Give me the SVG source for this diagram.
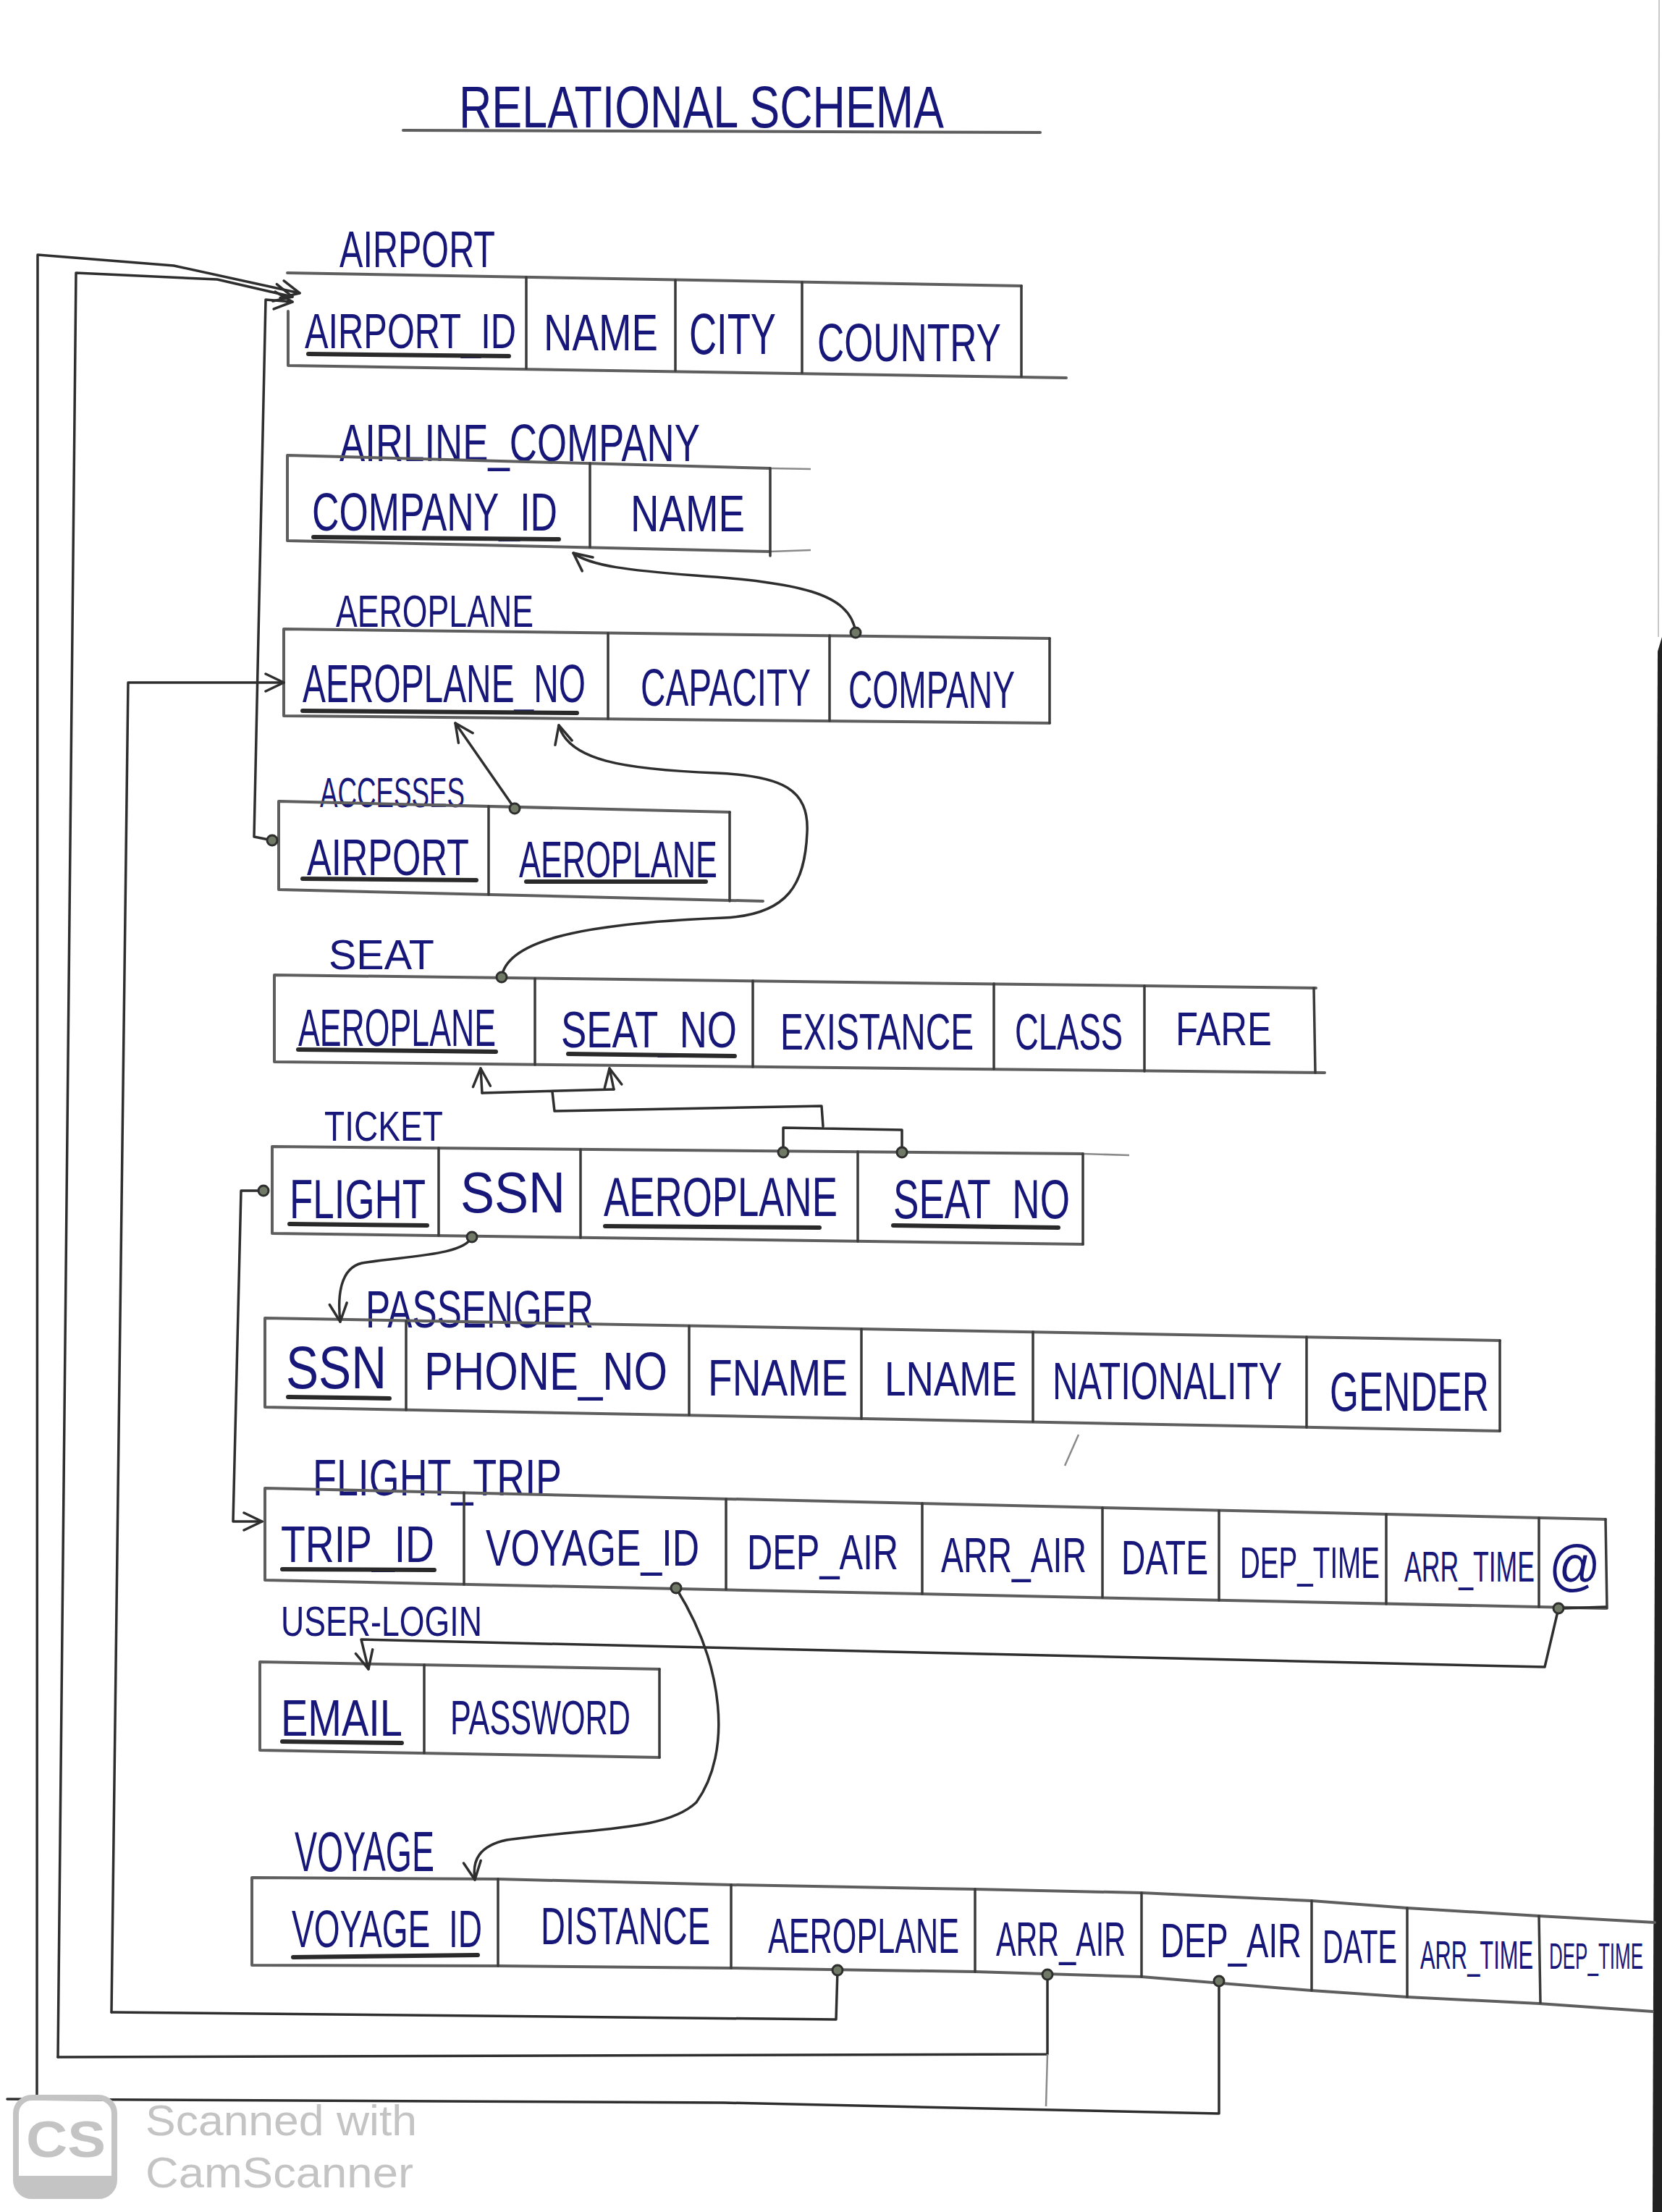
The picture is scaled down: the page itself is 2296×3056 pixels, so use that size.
<svg xmlns="http://www.w3.org/2000/svg" width="2296" height="3056" viewBox="0 0 2296 3056">
<style>
.bg{fill:#ffffff}
.box{stroke:#5e5e5e;stroke-width:4;fill:none;stroke-linecap:round;stroke-linejoin:round}
.dv{stroke:#3a3a3a;stroke-width:3.5;fill:none;stroke-linecap:round}
.conn{stroke:#2e2e2e;stroke-width:3.5;fill:none;stroke-linecap:round;stroke-linejoin:round}
.faint{stroke:#8a8a8a;stroke-width:2.5;fill:none}
.ul{stroke:#2a2a2a;stroke-width:6;stroke-linecap:round}
.t{font-family:"Liberation Sans",Arial,sans-serif;fill:#17177a}
.dot{fill:#707866;stroke:#2e2e2e;stroke-width:3}
.wm{font-family:"Liberation Sans",Arial,sans-serif;fill:#c4c4c4}
</style>
<defs>
<marker id="arr" viewBox="0 0 30 30" refX="28" refY="15" markerWidth="30" markerHeight="30" orient="auto" markerUnits="userSpaceOnUse">
<path d="M3,3 L28,15 L3,27" fill="none" stroke="#2e2e2e" stroke-width="3.5" stroke-linecap="round" stroke-linejoin="round"/>
</marker>
</defs>
<rect class="bg" x="0" y="0" width="2296" height="3056"/>
<polygon points="2290,900 2296,880 2296,3056 2283,3056" fill="#222222"/>
<line x1="2292" y1="0" x2="2291" y2="880" stroke="#c8c8c8" stroke-width="2"/>

<g id="title">
<text class="t" transform="translate(634,176) scale(1,1.32)" font-size="62" textLength="670" lengthAdjust="spacingAndGlyphs">RELATIONAL SCHEMA</text>
<path class="box" d="M557,180 L1437,183"/>
</g>

<g id="airport">
<text class="t" transform="translate(469,369) scale(1,1.446)" font-size="48.4" textLength="215" lengthAdjust="spacingAndGlyphs">AIRPORT</text>
<path class="box" d="M397,377 L1411,395 M398,430 L398,505 L1473,522"/>
<path class="dv" d="M727,383 L727,509 M933,387 L933,512 M1108,390 L1108,515 M1411,395 L1411,520"/>
<text class="t" transform="translate(421,481) scale(1,1.397)" font-size="48.7" textLength="292" lengthAdjust="spacingAndGlyphs">AIRPORT_ID</text>
<line class="ul" x1="426" y1="489" x2="703" y2="492"/>
<text class="t" transform="translate(751,484) scale(1,1.28)" font-size="54.7" textLength="158" lengthAdjust="spacingAndGlyphs">NAME</text>
<text class="t" transform="translate(952,489) scale(1,1.518)" font-size="52.7" textLength="120" lengthAdjust="spacingAndGlyphs">CITY</text>
<text class="t" transform="translate(1129,499) scale(1,1.44)" font-size="51.4" textLength="254" lengthAdjust="spacingAndGlyphs">COUNTRY</text>
</g>

<g id="airline_company">
<text class="t" transform="translate(469,637) scale(1,1.374)" font-size="52.4" textLength="498" lengthAdjust="spacingAndGlyphs">AIRLINE_COMPANY</text>
<path class="box" d="M397,629 L1064,647 M397,629 L397,747 L1064,762"/>
<path class="faint" d="M1064,647 L1120,648 M1064,762 L1120,760"/>
<path class="dv" d="M815,640 L815,756 M1064,647 L1064,768"/>
<text class="t" transform="translate(431,733) scale(1,1.443)" font-size="51.3" textLength="339" lengthAdjust="spacingAndGlyphs">COMPANY_ID</text>
<line class="ul" x1="433" y1="742" x2="772" y2="745"/>
<text class="t" transform="translate(871,734) scale(1,1.28)" font-size="54.7" textLength="158" lengthAdjust="spacingAndGlyphs">NAME</text>
</g>

<g id="aeroplane">
<text class="t" transform="translate(464,866) scale(1,1.41)" font-size="44.7" textLength="273" lengthAdjust="spacingAndGlyphs">AEROPLANE</text>
<path class="box" d="M392,869 L1450,882 M392,869 L392,989 L1450,999"/>
<path class="dv" d="M840,875 L840,993 M1146,878 L1146,996 M1450,882 L1450,999"/>
<text class="t" transform="translate(418,970) scale(1,1.546)" font-size="47.9" textLength="391" lengthAdjust="spacingAndGlyphs">AEROPLANE_NO</text>
<line class="ul" x1="418" y1="982" x2="797" y2="985"/>
<text class="t" transform="translate(885,975) scale(1,1.532)" font-size="47" textLength="235" lengthAdjust="spacingAndGlyphs">CAPACITY</text>
<text class="t" transform="translate(1172,978) scale(1,1.582)" font-size="45.5" textLength="230" lengthAdjust="spacingAndGlyphs">COMPANY</text>
</g>

<g id="accesses">
<text class="t" transform="translate(442,1115) scale(1,1.58)" font-size="36.7" textLength="200" lengthAdjust="spacingAndGlyphs">ACCESSES</text>
<path class="box" d="M385,1107 L1008,1122 M385,1107 L385,1229 L1054,1245"/>
<path class="dv" d="M675,1114 L675,1236 M1008,1122 L1008,1245"/>
<text class="t" transform="translate(424,1209) scale(1,1.389)" font-size="50.4" textLength="224" lengthAdjust="spacingAndGlyphs">AIRPORT</text>
<line class="ul" x1="418" y1="1214" x2="658" y2="1216"/>
<text class="t" transform="translate(717,1212) scale(1,1.562)" font-size="44.8" textLength="274" lengthAdjust="spacingAndGlyphs">AEROPLANE</text>
<line class="ul" x1="727" y1="1218" x2="975" y2="1218"/>
</g>

<g id="seat">
<text class="t" transform="translate(454,1339) scale(1,1.038)" font-size="55.9" textLength="146" lengthAdjust="spacingAndGlyphs">SEAT</text>
<path class="box" d="M379,1347 L1818,1365 M379,1347 L379,1467 L1830,1482"/>
<path class="dv" d="M739,1352 L739,1471 M1040,1355 L1040,1474 M1373,1359 L1373,1477 M1581,1362 L1581,1480 M1815,1365 L1817,1482"/>
<text class="t" transform="translate(412,1445) scale(1,1.611)" font-size="44.7" textLength="273" lengthAdjust="spacingAndGlyphs">AEROPLANE</text>
<line class="ul" x1="412" y1="1450" x2="685" y2="1453"/>
<text class="t" transform="translate(775,1447) scale(1,1.344)" font-size="52.1" textLength="243" lengthAdjust="spacingAndGlyphs">SEAT_NO</text>
<line class="ul" x1="785" y1="1456" x2="1015" y2="1459"/>
<text class="t" transform="translate(1078,1450) scale(1,1.486)" font-size="47.1" textLength="267" lengthAdjust="spacingAndGlyphs">EXISTANCE</text>
<text class="t" transform="translate(1402,1450) scale(1,1.54)" font-size="45.4" textLength="149" lengthAdjust="spacingAndGlyphs">CLASS</text>
<text class="t" transform="translate(1624,1444) scale(1,1.283)" font-size="49.9" textLength="133" lengthAdjust="spacingAndGlyphs">FARE</text>
</g>

<g id="ticket">
<text class="t" transform="translate(448,1576) scale(1,1.258)" font-size="46.1" textLength="164" lengthAdjust="spacingAndGlyphs">TICKET</text>
<path class="box" d="M376,1584 L1496,1594 M376,1584 L376,1704 L1496,1719"/>
<path class="faint" d="M1496,1594 L1560,1596"/>
<path class="dv" d="M606,1586 L606,1707 M802,1588 L802,1710 M1185,1591 L1185,1715 M1496,1594 L1496,1719"/>
<text class="t" transform="translate(400,1683) scale(1,1.437)" font-size="52.9" textLength="188" lengthAdjust="spacingAndGlyphs">FLIGHT</text>
<line class="ul" x1="400" y1="1691" x2="590" y2="1693"/>
<text class="t" transform="translate(636,1675) scale(1,1.135)" font-size="70.5" textLength="145" lengthAdjust="spacingAndGlyphs">SSN</text>
<text class="t" transform="translate(834,1680) scale(1,1.439)" font-size="52.8" textLength="323" lengthAdjust="spacingAndGlyphs">AEROPLANE</text>
<line class="ul" x1="836" y1="1694" x2="1132" y2="1696"/>
<text class="t" transform="translate(1234,1683) scale(1,1.453)" font-size="52.3" textLength="244" lengthAdjust="spacingAndGlyphs">SEAT_NO</text>
<line class="ul" x1="1234" y1="1693" x2="1462" y2="1696"/>
</g>

<g id="passenger">
<text class="t" transform="translate(505,1834) scale(1,1.423)" font-size="50.6" textLength="315" lengthAdjust="spacingAndGlyphs">PASSENGER</text>
<path class="box" d="M366,1821 L2072,1852 M366,1821 L366,1944 L2072,1977"/>
<path class="dv" d="M561,1825 L561,1948 M952,1832 L952,1955 M1190,1836 L1190,1960 M1427,1840 L1427,1964 M1805,1847 L1805,1972 M2072,1852 L2072,1977"/>
<text class="t" transform="translate(395,1918) scale(1,1.243)" font-size="67.6" textLength="139" lengthAdjust="spacingAndGlyphs">SSN</text>
<line class="ul" x1="398" y1="1930" x2="538" y2="1932"/>
<text class="t" transform="translate(586,1920) scale(1,1.235)" font-size="59.9" textLength="336" lengthAdjust="spacingAndGlyphs">PHONE_NO</text>
<text class="t" transform="translate(978,1928) scale(1,1.27)" font-size="55.1" textLength="193" lengthAdjust="spacingAndGlyphs">FNAME</text>
<text class="t" transform="translate(1222,1928) scale(1,1.243)" font-size="53.1" textLength="183" lengthAdjust="spacingAndGlyphs">LNAME</text>
<text class="t" transform="translate(1454,1933) scale(1,1.49)" font-size="48.3" textLength="317" lengthAdjust="spacingAndGlyphs">NATIONALITY</text>
<text class="t" transform="translate(1837,1949) scale(1,1.478)" font-size="51.4" textLength="220" lengthAdjust="spacingAndGlyphs">GENDER</text>
<path class="faint" d="M1490,1982 L1471,2025"/>
</g>

<g id="flight_trip">
<text class="t" transform="translate(432,2066) scale(1,1.30)" font-size="53.8" textLength="344" lengthAdjust="spacingAndGlyphs">FLIGHT_TRIP</text>
<path class="box" d="M366,2056 L2218,2099 M366,2056 L366,2183 L2218,2222"/>
<path class="dv" d="M641,2062 L641,2189 M1003,2071 L1003,2196 M1274,2077 L1274,2202 M1523,2083 L1523,2207 M1684,2087 L1684,2211 M1915,2092 L1915,2216 M2126,2097 L2126,2220 M2218,2099 L2220,2222"/>
<text class="t" transform="translate(388,2158) scale(1,1.266)" font-size="55.3" textLength="212" lengthAdjust="spacingAndGlyphs">TRIP_ID</text>
<line class="ul" x1="390" y1="2168" x2="600" y2="2169"/>
<text class="t" transform="translate(671,2163) scale(1,1.372)" font-size="51" textLength="295" lengthAdjust="spacingAndGlyphs">VOYAGE_ID</text>
<text class="t" transform="translate(1032,2168) scale(1,1.393)" font-size="48.8" textLength="209" lengthAdjust="spacingAndGlyphs">DEP_AIR</text>
<text class="t" transform="translate(1300,2172) scale(1,1.466)" font-size="46.4" textLength="201" lengthAdjust="spacingAndGlyphs">ARR_AIR</text>
<text class="t" transform="translate(1549,2175) scale(1,1.467)" font-size="45" textLength="120" lengthAdjust="spacingAndGlyphs">DATE</text>
<text class="t" transform="translate(1713,2180) scale(1,1.606)" font-size="38.6" textLength="193" lengthAdjust="spacingAndGlyphs">DEP_TIME</text>
<text class="t" transform="translate(1940,2185) scale(1,1.685)" font-size="35.6" textLength="180" lengthAdjust="spacingAndGlyphs">ARR_TIME</text>
<text class="t" transform="translate(2140,2190) scale(1,1.14)" font-size="68" textLength="71" lengthAdjust="spacingAndGlyphs">@</text>
</g>

<g id="user_login">
<text class="t" transform="translate(388,2260) scale(1,1.298)" font-size="44.7" textLength="278" lengthAdjust="spacingAndGlyphs">USER-LOGIN</text>
<path class="box" d="M359,2296 L911,2306 M359,2296 L359,2418 L911,2428"/>
<path class="dv" d="M586,2300 L586,2422 M911,2306 L911,2428"/>
<text class="t" transform="translate(388,2398) scale(1,1.25)" font-size="56" textLength="168" lengthAdjust="spacingAndGlyphs">EMAIL</text>
<line class="ul" x1="390" y1="2406" x2="555" y2="2408"/>
<text class="t" transform="translate(622,2396) scale(1,1.546)" font-size="42.7" textLength="249" lengthAdjust="spacingAndGlyphs">PASSWORD</text>
</g>

<g id="voyage">
<text class="t" transform="translate(407,2585) scale(1,1.707)" font-size="45.7" textLength="193" lengthAdjust="spacingAndGlyphs">VOYAGE</text>
<path class="box" d="M348,2594 L688,2596 L1010,2604 L1347,2610 L1577,2615 L1812,2626 L1944,2636 L2126,2647 L2286,2656 M348,2594 L348,2715 L688,2716 L1010,2719 L1347,2724 L1577,2731 L1812,2750 L1944,2759 L2126,2768 L2283,2779"/>
<path class="dv" d="M688,2596 L688,2716 M1010,2604 L1010,2719 M1347,2610 L1347,2724 M1577,2615 L1577,2731 M1812,2626 L1812,2750 M1944,2636 L1944,2759 M2126,2647 L2128,2767"/>
<text class="t" transform="translate(403,2690) scale(1,1.582)" font-size="45.5" textLength="263" lengthAdjust="spacingAndGlyphs">VOYAGE_ID</text>
<line class="ul" x1="405" y1="2704" x2="660" y2="2701"/>
<text class="t" transform="translate(747,2686) scale(1,1.555)" font-size="46.3" textLength="234" lengthAdjust="spacingAndGlyphs">DISTANCE</text>
<text class="t" transform="translate(1061,2698) scale(1,1.574)" font-size="43.2" textLength="264" lengthAdjust="spacingAndGlyphs">AEROPLANE</text>
<text class="t" transform="translate(1376,2702) scale(1,1.598)" font-size="41.3" textLength="179" lengthAdjust="spacingAndGlyphs">ARR_AIR</text>
<text class="t" transform="translate(1603,2704) scale(1,1.447)" font-size="45.6" textLength="195" lengthAdjust="spacingAndGlyphs">DEP_AIR</text>
<text class="t" transform="translate(1827,2712) scale(1,1.658)" font-size="38.6" textLength="103" lengthAdjust="spacingAndGlyphs">DATE</text>
<text class="t" transform="translate(1962,2720) scale(1,1.789)" font-size="31.3" textLength="156" lengthAdjust="spacingAndGlyphs">ARR_TIME</text>
<text class="t" transform="translate(2140,2720) scale(1,1.923)" font-size="26" textLength="130" lengthAdjust="spacingAndGlyphs">DEP_TIME</text>
</g>

<g id="connectors">
<path class="conn" d="M1182,874 C1175,818 1100,805 960,795 C870,788 815,782 792,764" marker-end="url(#arr)"/>
<path class="conn" d="M154,2780 L177,943 L392,943" marker-end="url(#arr)"/>
<path class="conn" d="M711,1117 L629,999" marker-end="url(#arr)"/>
<path class="conn" d="M693,1350 C700,1300 800,1276 1000,1268 C1090,1264 1112,1220 1115,1150 C1118,1090 1080,1072 990,1068 C860,1063 785,1050 772,1002" marker-end="url(#arr)"/>
<path class="conn" d="M376,1161 L351,1156 L367,414 L404,417" marker-end="url(#arr)"/>
<path class="conn" d="M80,2842 L105,377 L300,386 L404,410" marker-end="url(#arr)"/>
<path class="conn" d="M51,2898 L52,352 L240,367 L414,405" marker-end="url(#arr)"/>
<path class="conn" d="M666,1510 L664,1476" marker-end="url(#arr)"/>
<path class="conn" d="M848,1505 L842,1476" marker-end="url(#arr)"/>
<path class="conn" d="M666,1510 L848,1505 M763,1508 L766,1535 L1135,1528 L1137,1556 M1082,1592 L1082,1558 L1246,1561 L1246,1592"/>
<path class="conn" d="M364,1645 L333,1645 L322,2102 L362,2102" marker-end="url(#arr)"/>
<path class="conn" d="M652,1709 C640,1735 560,1735 500,1745 C470,1752 466,1790 470,1826" marker-end="url(#arr)"/>
<path class="conn" d="M934,2194 C1000,2300 1012,2420 962,2490 C920,2530 820,2525 700,2542 C662,2550 652,2570 656,2597" marker-end="url(#arr)"/>
<path class="conn" d="M2153,2222 L2134,2303 L499,2265 L509,2306" marker-end="url(#arr)"/>
<path class="conn" d="M2160,2222 L2218,2220"/>
<path class="conn" d="M1157,2722 L1155,2790 L154,2780"/>
<path class="conn" d="M1447,2728 L1447,2838 L80,2842"/>
<path class="faint" d="M1447,2838 L1445,2910"/>
<path class="conn" d="M1684,2737 L1684,2920 L1000,2905 L10,2900"/>
<circle class="dot" cx="1182" cy="874" r="7"/>
<circle class="dot" cx="711" cy="1117" r="7"/>
<circle class="dot" cx="376" cy="1161" r="7"/>
<circle class="dot" cx="693" cy="1350" r="7"/>
<circle class="dot" cx="1082" cy="1592" r="7"/>
<circle class="dot" cx="1246" cy="1592" r="7"/>
<circle class="dot" cx="364" cy="1645" r="7"/>
<circle class="dot" cx="652" cy="1709" r="7"/>
<circle class="dot" cx="934" cy="2194" r="7"/>
<circle class="dot" cx="2153" cy="2222" r="7"/>
<circle class="dot" cx="1157" cy="2722" r="7"/>
<circle class="dot" cx="1447" cy="2728" r="7"/>
<circle class="dot" cx="1684" cy="2737" r="7"/>
</g>

<g id="watermark">
<rect x="22" y="2898" width="136" height="136" rx="22" fill="none" stroke="#c4c4c4" stroke-width="8"/>
<path d="M22,3006 L158,3006 L158,3012 A22,22 0 0 1 136,3034 L44,3034 A22,22 0 0 1 22,3012 Z" fill="#c4c4c4"/>
<text x="36" y="2980" font-family="'Liberation Sans',Arial,sans-serif" font-weight="bold" font-size="70" fill="#c4c4c4" textLength="110" lengthAdjust="spacingAndGlyphs">CS</text>
<text class="wm" x="201" y="2950" font-size="60" textLength="375" lengthAdjust="spacingAndGlyphs">Scanned with</text>
<text class="wm" x="201" y="3022" font-size="60" textLength="370" lengthAdjust="spacingAndGlyphs">CamScanner</text>
</g>
</svg>
